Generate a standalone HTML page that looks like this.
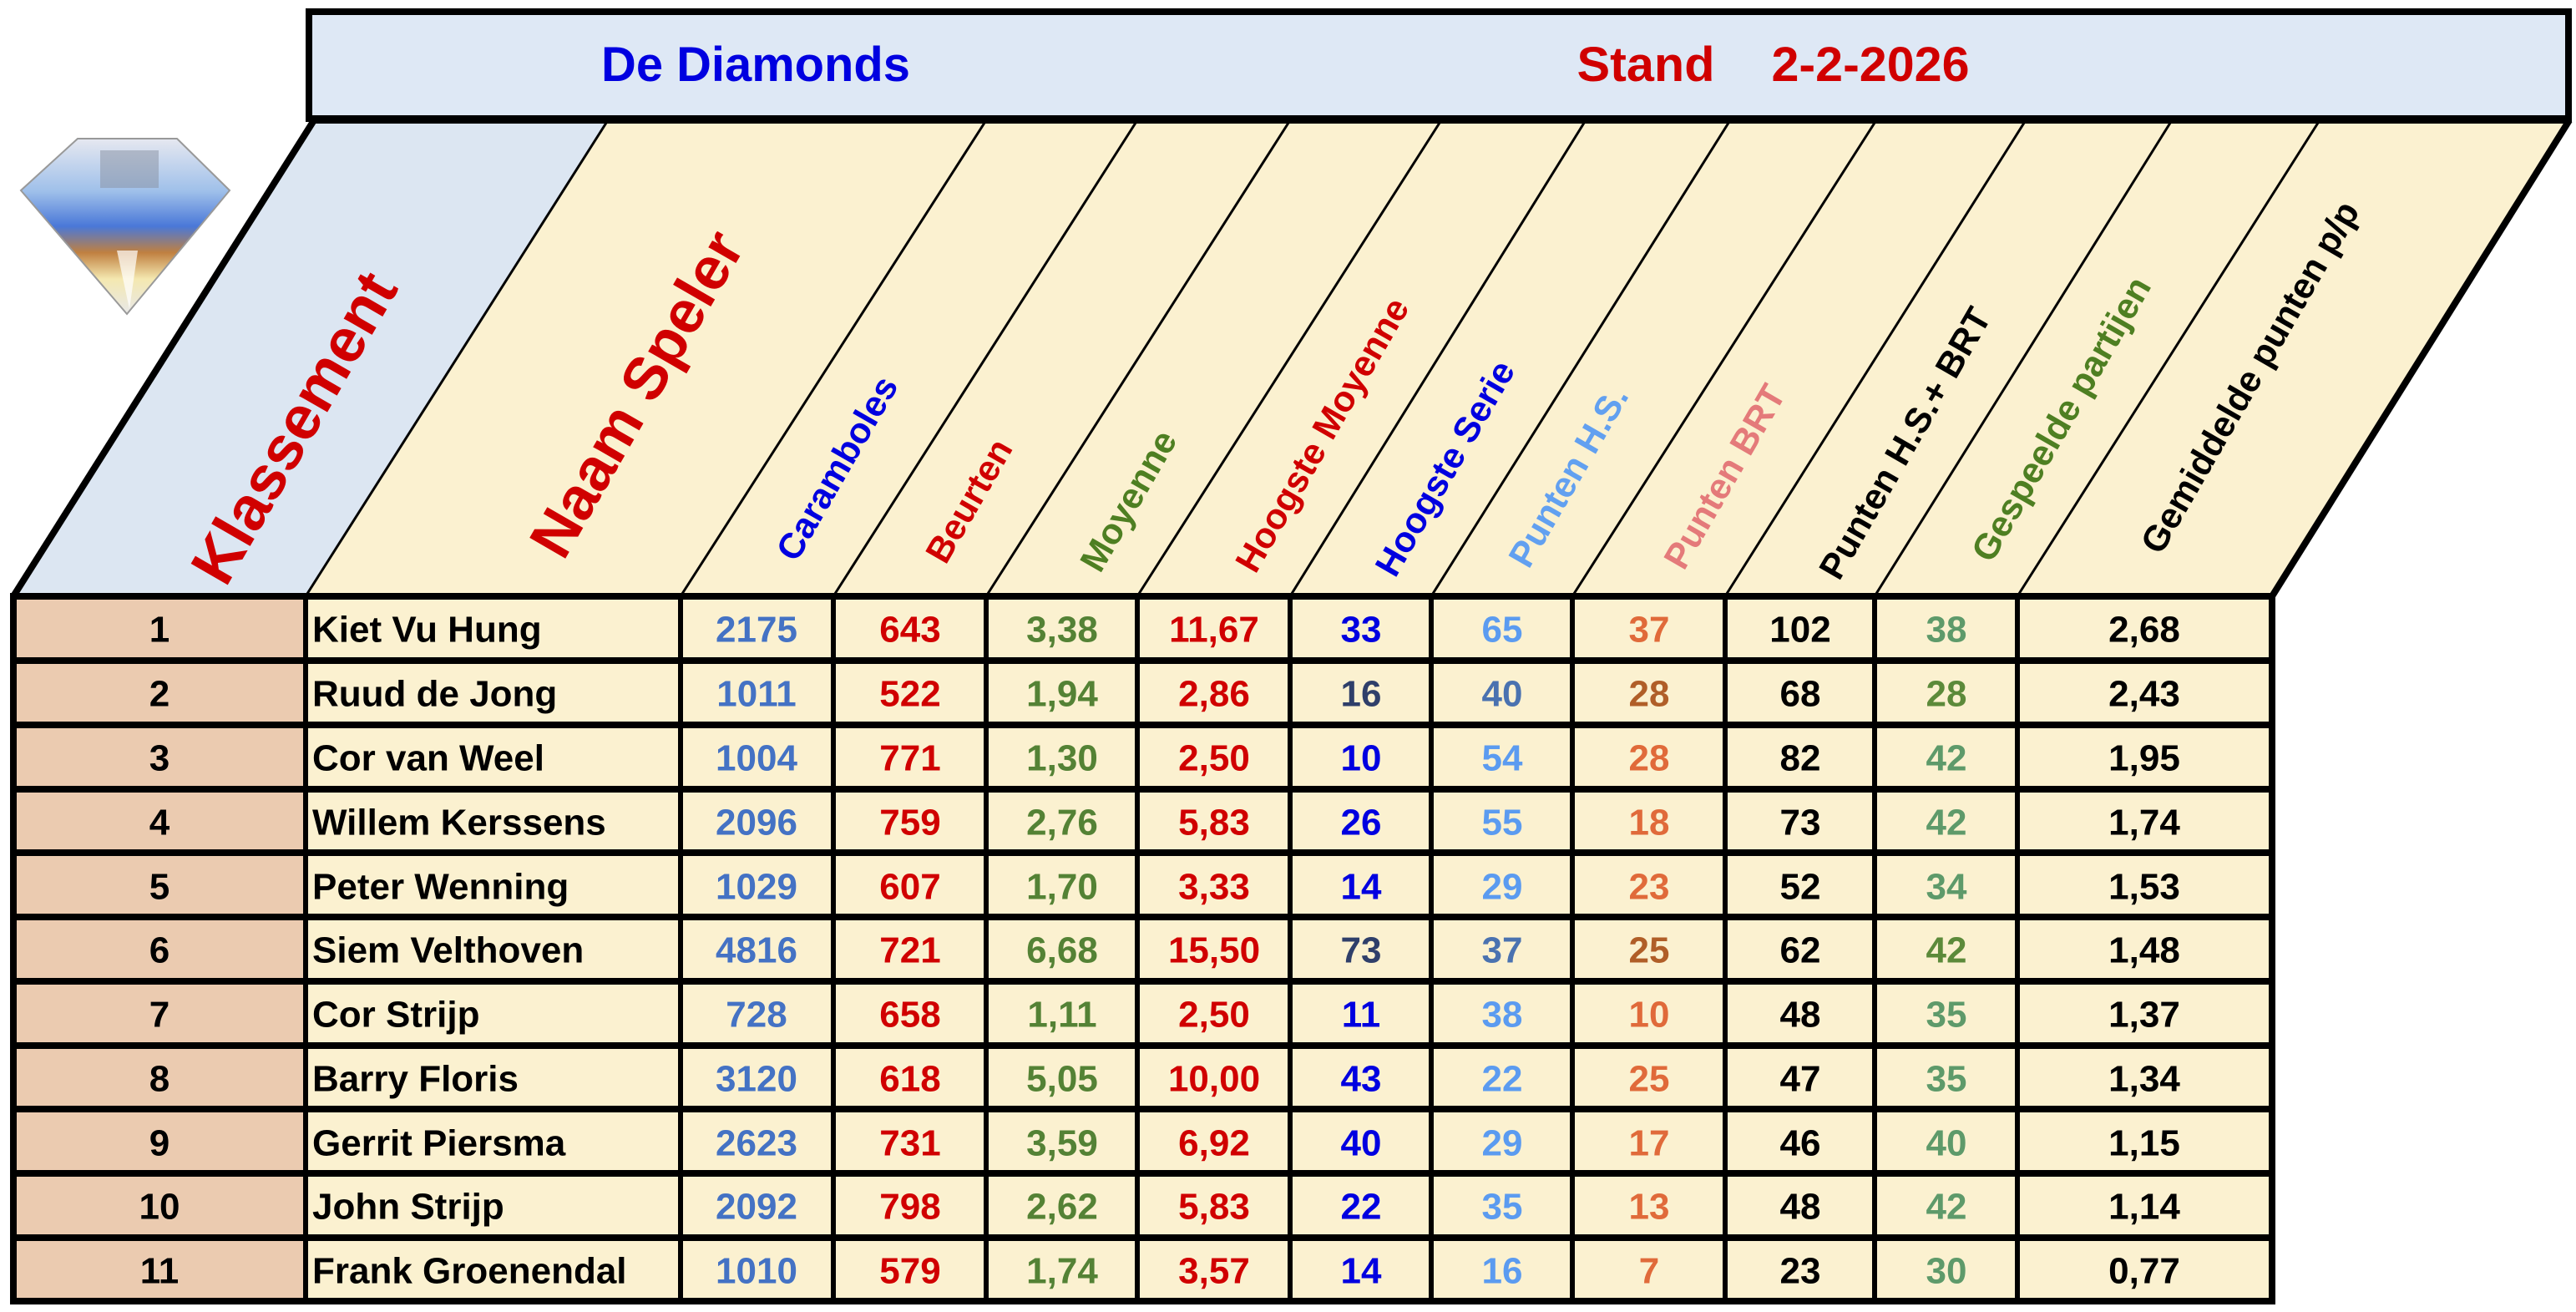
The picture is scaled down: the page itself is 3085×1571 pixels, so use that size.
<!DOCTYPE html>
<html><head><meta charset="utf-8"><style>
html,body{margin:0;padding:0;background:#fff;}
svg{display:block;font-family:"Liberation Sans",Arial,sans-serif;font-weight:bold;}
</style></head><body>
<svg width="3085" height="1571" viewBox="0 0 3085 1571" xmlns="http://www.w3.org/2000/svg">
<defs>
<linearGradient id="dg" x1="0" y1="0" x2="0" y2="1">
<stop offset="0" stop-color="#e6e8f0"/><stop offset="0.3" stop-color="#9fc0ea"/>
<stop offset="0.5" stop-color="#4a78d8"/><stop offset="0.65" stop-color="#c08040"/>
<stop offset="0.8" stop-color="#f4e8b0"/><stop offset="1" stop-color="#e8e8e8"/>
</linearGradient>
</defs>
<polygon points="93,166 212,166 275,228 152,376 25,228" fill="url(#dg)" stroke="#999" stroke-width="2"/>
<polygon points="120,180 190,180 190,225 120,225" fill="#8890a0" opacity="0.5"/>
<polygon points="140,300 165,300 155,370" fill="#fff" opacity="0.7"/>

<rect x="370" y="14" width="2706" height="128" fill="#DEE8F5" stroke="#000" stroke-width="8"/>
<text x="905" y="97" font-size="58" fill="#0000E0" text-anchor="middle" textLength="370" lengthAdjust="spacingAndGlyphs">De Diamonds</text>
<text x="1971" y="97" font-size="58" fill="#D00000" text-anchor="middle" textLength="165" lengthAdjust="spacingAndGlyphs">Stand</text>
<text x="2240" y="97" font-size="58" fill="#D00000" text-anchor="middle" textLength="237" lengthAdjust="spacingAndGlyphs">2-2-2026</text>

<polygon points="16,714 366,714 728,144 374,144" fill="#DCE6F2"/>
<polygon points="366,714 2721,714 3079,144 728,144" fill="#FBF1D0"/>
<g stroke="#000" stroke-width="3">
<line x1="366" y1="714" x2="728" y2="144"/>
<line x1="815" y1="714" x2="1181" y2="144"/>
<line x1="998" y1="714" x2="1362" y2="144"/>
<line x1="1181" y1="714" x2="1545" y2="144"/>
<line x1="1362" y1="714" x2="1726" y2="144"/>
<line x1="1545" y1="714" x2="1899" y2="144"/>
<line x1="1714" y1="714" x2="2072" y2="144"/>
<line x1="1883" y1="714" x2="2247" y2="144"/>
<line x1="2066" y1="714" x2="2426" y2="144"/>
<line x1="2245" y1="714" x2="2601" y2="144"/>
<line x1="2416" y1="714" x2="2778" y2="144"/>
</g>
<g stroke="#000" stroke-width="8" fill="none">
<line x1="16" y1="714" x2="376" y2="144"/>
<line x1="2721" y1="714" x2="3077" y2="144"/>
<line x1="370" y1="144" x2="3079" y2="144"/>
</g>

<g text-anchor="middle" dominant-baseline="central">
<text transform="translate(352,512) rotate(-60)" font-size="74" fill="#D00000">Klassement</text>
<text transform="translate(763,472) rotate(-60)" font-size="72" fill="#D00000">Naam Speler</text>
<text transform="translate(1003,561) rotate(-60)" font-size="43" fill="#0000E0">Caramboles</text>
<text transform="translate(1161,600) rotate(-60)" font-size="43" fill="#D00000">Beurten</text>
<text transform="translate(1352,600) rotate(-60)" font-size="43" fill="#4E7F22">Moyenne</text>
<text transform="translate(1584,521) rotate(-60)" font-size="43" fill="#D00000">Hoogste Moyenne</text>
<text transform="translate(1731,561) rotate(-60)" font-size="43" fill="#0000E0">Hoogste Serie</text>
<text transform="translate(1879,571) rotate(-60)" font-size="43" fill="#62A0F0">Punten H.S.</text>
<text transform="translate(2066,571) rotate(-60)" font-size="43" fill="#E47A7A">Punten BRT</text>
<text transform="translate(2282,531) rotate(-60)" font-size="43" fill="#000">Punten H.S.+ BRT</text>
<text transform="translate(2469,502) rotate(-60)" font-size="43" fill="#4E7F22">Gespeelde partijen</text>
<text transform="translate(2695,452) rotate(-60)" font-size="43" fill="#000">Gemiddelde punten p/p</text>
</g>

<rect x="16" y="714" width="350" height="844" fill="#EBCBB0"/>
<rect x="366" y="714" width="2355" height="844" fill="#FBF1D0"/>
<g stroke="#000" stroke-width="6">
<line x1="366" y1="714" x2="366" y2="1558"/>
<line x1="815" y1="714" x2="815" y2="1558"/>
<line x1="998" y1="714" x2="998" y2="1558"/>
<line x1="1181" y1="714" x2="1181" y2="1558"/>
<line x1="1362" y1="714" x2="1362" y2="1558"/>
<line x1="1545" y1="714" x2="1545" y2="1558"/>
<line x1="1714" y1="714" x2="1714" y2="1558"/>
<line x1="1883" y1="714" x2="1883" y2="1558"/>
<line x1="2066" y1="714" x2="2066" y2="1558"/>
<line x1="2245" y1="714" x2="2245" y2="1558"/>
<line x1="2416" y1="714" x2="2416" y2="1558"/>
</g>
<g stroke="#000" stroke-width="8">
<line x1="12" y1="714" x2="2725" y2="714"/>
<line x1="12" y1="791" x2="2725" y2="791"/>
<line x1="12" y1="868" x2="2725" y2="868"/>
<line x1="12" y1="945" x2="2725" y2="945"/>
<line x1="12" y1="1021" x2="2725" y2="1021"/>
<line x1="12" y1="1098" x2="2725" y2="1098"/>
<line x1="12" y1="1175" x2="2725" y2="1175"/>
<line x1="12" y1="1252" x2="2725" y2="1252"/>
<line x1="12" y1="1328" x2="2725" y2="1328"/>
<line x1="12" y1="1405" x2="2725" y2="1405"/>
<line x1="12" y1="1482" x2="2725" y2="1482"/>
<line x1="12" y1="1558" x2="2725" y2="1558"/>
<line x1="16" y1="710" x2="16" y2="1562"/>
<line x1="2721" y1="710" x2="2721" y2="1562"/>
</g>

<g font-size="44" dominant-baseline="central">
<g text-anchor="middle" fill="#000">
<text x="191" y="754">1</text><text x="191" y="831">2</text><text x="191" y="908">3</text><text x="191" y="985">4</text><text x="191" y="1062">5</text><text x="191" y="1138">6</text><text x="191" y="1215">7</text><text x="191" y="1292">8</text><text x="191" y="1369">9</text><text x="191" y="1445">10</text><text x="191" y="1522">11</text>
</g>
<g fill="#000">
<text x="374" y="754">Kiet Vu Hung</text><text x="374" y="831">Ruud de Jong</text><text x="374" y="908">Cor van Weel</text><text x="374" y="985">Willem Kerssens</text><text x="374" y="1062">Peter Wenning</text><text x="374" y="1138">Siem Velthoven</text><text x="374" y="1215">Cor Strijp</text><text x="374" y="1292">Barry Floris</text><text x="374" y="1369">Gerrit Piersma</text><text x="374" y="1445">John Strijp</text><text x="374" y="1522">Frank Groenendal</text>
</g>
<g text-anchor="middle" fill="#4472C4">
<text x="906" y="754">2175</text><text x="906" y="831">1011</text><text x="906" y="908">1004</text><text x="906" y="985">2096</text><text x="906" y="1062">1029</text><text x="906" y="1138">4816</text><text x="906" y="1215">728</text><text x="906" y="1292">3120</text><text x="906" y="1369">2623</text><text x="906" y="1445">2092</text><text x="906" y="1522">1010</text>
</g>
<g text-anchor="middle" fill="#D00000">
<text x="1090" y="754">643</text><text x="1090" y="831">522</text><text x="1090" y="908">771</text><text x="1090" y="985">759</text><text x="1090" y="1062">607</text><text x="1090" y="1138">721</text><text x="1090" y="1215">658</text><text x="1090" y="1292">618</text><text x="1090" y="1369">731</text><text x="1090" y="1445">798</text><text x="1090" y="1522">579</text>
</g>
<g text-anchor="middle" fill="#548235">
<text x="1272" y="754">3,38</text><text x="1272" y="831">1,94</text><text x="1272" y="908">1,30</text><text x="1272" y="985">2,76</text><text x="1272" y="1062">1,70</text><text x="1272" y="1138">6,68</text><text x="1272" y="1215">1,11</text><text x="1272" y="1292">5,05</text><text x="1272" y="1369">3,59</text><text x="1272" y="1445">2,62</text><text x="1272" y="1522">1,74</text>
</g>
<g text-anchor="middle" fill="#D00000">
<text x="1454" y="754">11,67</text><text x="1454" y="831">2,86</text><text x="1454" y="908">2,50</text><text x="1454" y="985">5,83</text><text x="1454" y="1062">3,33</text><text x="1454" y="1138">15,50</text><text x="1454" y="1215">2,50</text><text x="1454" y="1292">10,00</text><text x="1454" y="1369">6,92</text><text x="1454" y="1445">5,83</text><text x="1454" y="1522">3,57</text>
</g>
<g text-anchor="middle" fill="#0000E0">
<text x="1630" y="754">33</text><text x="1630" y="831" fill="#2F3F6A">16</text><text x="1630" y="908">10</text><text x="1630" y="985">26</text><text x="1630" y="1062">14</text><text x="1630" y="1138" fill="#2F3F6A">73</text><text x="1630" y="1215">11</text><text x="1630" y="1292">43</text><text x="1630" y="1369">40</text><text x="1630" y="1445">22</text><text x="1630" y="1522">14</text>
</g>
<g text-anchor="middle" fill="#5B9BF0">
<text x="1799" y="754">65</text><text x="1799" y="831" fill="#4A72B0">40</text><text x="1799" y="908">54</text><text x="1799" y="985">55</text><text x="1799" y="1062">29</text><text x="1799" y="1138" fill="#4A72B0">37</text><text x="1799" y="1215">38</text><text x="1799" y="1292">22</text><text x="1799" y="1369">29</text><text x="1799" y="1445">35</text><text x="1799" y="1522">16</text>
</g>
<g text-anchor="middle" fill="#E06A3A">
<text x="1975" y="754">37</text><text x="1975" y="831" fill="#B05E28">28</text><text x="1975" y="908">28</text><text x="1975" y="985">18</text><text x="1975" y="1062">23</text><text x="1975" y="1138" fill="#B05E28">25</text><text x="1975" y="1215">10</text><text x="1975" y="1292">25</text><text x="1975" y="1369">17</text><text x="1975" y="1445">13</text><text x="1975" y="1522">7</text>
</g>
<g text-anchor="middle" fill="#000">
<text x="2156" y="754">102</text><text x="2156" y="831">68</text><text x="2156" y="908">82</text><text x="2156" y="985">73</text><text x="2156" y="1062">52</text><text x="2156" y="1138">62</text><text x="2156" y="1215">48</text><text x="2156" y="1292">47</text><text x="2156" y="1369">46</text><text x="2156" y="1445">48</text><text x="2156" y="1522">23</text>
</g>
<g text-anchor="middle" fill="#5E9A6A">
<text x="2331" y="754">38</text><text x="2331" y="831" fill="#5C8A3A">28</text><text x="2331" y="908">42</text><text x="2331" y="985">42</text><text x="2331" y="1062">34</text><text x="2331" y="1138" fill="#5C8A3A">42</text><text x="2331" y="1215">35</text><text x="2331" y="1292">35</text><text x="2331" y="1369">40</text><text x="2331" y="1445">42</text><text x="2331" y="1522">30</text>
</g>
<g text-anchor="middle" fill="#000">
<text x="2568" y="754">2,68</text><text x="2568" y="831">2,43</text><text x="2568" y="908">1,95</text><text x="2568" y="985">1,74</text><text x="2568" y="1062">1,53</text><text x="2568" y="1138">1,48</text><text x="2568" y="1215">1,37</text><text x="2568" y="1292">1,34</text><text x="2568" y="1369">1,15</text><text x="2568" y="1445">1,14</text><text x="2568" y="1522">0,77</text>
</g>
</g>
</svg>
</body></html>
